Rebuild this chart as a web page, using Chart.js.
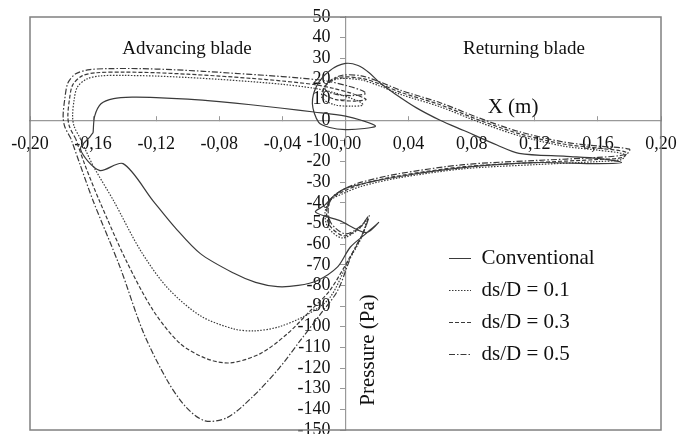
<!DOCTYPE html>
<html>
<head>
<meta charset="utf-8">
<script src="https://cdn.jsdelivr.net/npm/chart.js@4/dist/chart.umd.min.js"></script>
<style>
  html, body { margin: 0; padding: 0; background: #fff; }
</style>
</head>
<body>
<canvas id="pressureChart" width="678" height="434"></canvas>
<script>
// Pressure along the blade (X in m, pressure in Pa), one closed loop per rotor
const seriesNames = ['Conventional', 'ds/D = 0.1', 'ds/D = 0.3', 'ds/D = 0.5'];

const convX = [-0.160, -0.159, -0.155, -0.147, -0.135, -0.120, -0.100, -0.080, -0.060, -0.040, -0.020, 0.000,
  0.010, 0.019, 0.012, 0.000, -0.010, -0.017, -0.021, -0.018, -0.010, 0.000, 0.008, 0.015, 0.022, 0.031,
  0.045, 0.060, 0.075, 0.096, 0.110, 0.140, 0.160, 0.175, 0.160, 0.120, 0.080, 0.040, 0.015, 0.000, -0.008,
  -0.013, -0.019, -0.004, 0.013, 0.021, 0.012, 0.003, -0.005, -0.018, -0.030, -0.043, -0.057, -0.071, -0.092,
  -0.108, -0.122, -0.141, -0.156, -0.168, -0.162, -0.160];
const convY = [-6, 2, 8, 10.5, 11.2, 11, 10.2, 9, 7.5, 5.8, 4, 2,
  0, -2.8, -4, -4.5, -3.5, -1, 8, 17, 24, 27.5, 26.5, 23, 18, 13,
  6, 0, -5, -12, -16, -17.5, -18.5, -20.5, -21, -20.5, -22.5, -26.5, -30, -33, -37,
  -41, -44.5, -48.5, -54.4, -49.5, -55.5, -61.5, -71, -77.7, -80, -80.6, -78.5, -74, -64.6,
  -52, -39, -21, -24.3, -14, -8, -6];

const ds01X = [-0.168, -0.172, -0.173, -0.172, -0.170, -0.164, -0.155, -0.140, -0.120, -0.100, -0.080, -0.060,
  -0.040, -0.020, -0.008, 0.004, 0.010, 0.011, 0.004, -0.007, -0.015, -0.013, -0.005, 0.010, 0.022, 0.035,
  0.060, 0.085, 0.110, 0.138, 0.160, 0.177, 0.175, 0.160, 0.120, 0.075, 0.033, 0.010, 0.000, -0.010, -0.013,
  -0.011, -0.002, 0.008, 0.013, 0.010, 0.002, -0.010, -0.024, -0.042, -0.058, -0.071, -0.092, -0.113, -0.130,
  -0.147, -0.160, -0.168];
const ds01Y = [-9, -3, 2, 10, 16, 20, 21.5, 21.7, 21.4, 20.7, 19.8, 18.7,
  17.4, 15.5, 13.5, 10.5, 8.5, 7.3, 6.8, 7.5, 11, 16.5, 20, 19.5, 16.5, 12.5,
  6.5, -1, -7.5, -12.5, -14.5, -16.5, -19, -20, -21.5, -23.5, -28, -32, -35, -39, -45,
  -52, -57, -53, -49, -57, -68, -86, -94, -100, -102, -101, -94.7, -81, -63,
  -39, -22, -9];

const ds03X = [-0.171, -0.175, -0.176, -0.175, -0.173, -0.167, -0.158, -0.140, -0.120, -0.100, -0.080, -0.060,
  -0.040, -0.020, -0.008, 0.004, 0.011, 0.013, 0.006, -0.006, -0.014, -0.012, -0.004, 0.010, 0.022, 0.035,
  0.060, 0.085, 0.110, 0.138, 0.160, 0.178, 0.176, 0.160, 0.120, 0.075, 0.033, 0.010, 0.000, -0.009, -0.012,
  -0.010, -0.001, 0.009, 0.014, 0.011, 0.003, -0.010, -0.022, -0.037, -0.054, -0.073, -0.088, -0.105, -0.122,
  -0.139, -0.156, -0.165, -0.171];
const ds03Y = [-9, -3, 2, 10, 17, 21.5, 23, 23.3, 23, 22.3, 21.4, 20.3,
  19, 17.3, 15.5, 13, 11, 10, 9.3, 10, 13, 17.5, 20.8, 20.3, 17.5, 13.5,
  7.5, 0, -6.5, -11.5, -13.5, -15.5, -18, -19, -20.5, -22.5, -27, -31, -34, -38, -44,
  -51, -56, -52, -47.5, -55, -66, -82.5, -92, -103.5, -113, -117.5, -115.5, -108, -92,
  -68, -39, -22, -9];

const ds05X = [-0.174, -0.178, -0.179, -0.178, -0.176, -0.171, -0.162, -0.150, -0.130, -0.110, -0.090, -0.070,
  -0.050, -0.030, -0.012, 0.002, 0.010, 0.013, 0.006, -0.006, -0.013, -0.010, -0.002, 0.010, 0.022, 0.035,
  0.060, 0.085, 0.110, 0.138, 0.160, 0.180, 0.178, 0.160, 0.120, 0.075, 0.033, 0.010, 0.000, -0.008, -0.011,
  -0.009, 0.000, 0.010, 0.015, 0.012, 0.004, -0.005, -0.016, -0.029, -0.042, -0.059, -0.075, -0.089, -0.101,
  -0.113, -0.128, -0.143, -0.160, -0.168, -0.174];
const ds05Y = [-9, -3, 2, 10, 18, 22.5, 24.5, 25, 25, 24.5, 23.7, 22.7,
  21.7, 20.5, 19, 16.5, 14.5, 13, 12, 12.5, 15, 19, 21.8, 21.5, 18.5, 14.5,
  8.5, 1, -5.5, -10.5, -12.5, -14, -16.5, -18, -19.5, -21.5, -26, -30, -33, -37, -43,
  -50, -55, -51, -46, -53, -65, -82.5, -94, -107, -120, -134, -144, -145.6, -139,
  -126, -103, -71, -39, -22, -9];

const xMin = -0.2, xMax = 0.2, xStep = 0.04;
const yMin = -150, yMax = 50, yStep = 10;

const serif = 'Liberation Serif';
const toPoints = (xs, ys) => xs.map((x, i) => ({ x: x, y: ys[i] }));

function makeSet(label, xs, ys, dash) {
    return {
        label: label,
        data: toPoints(xs, ys),
        showLine: true,
        borderColor: '#3a3a3a',
        backgroundColor: '#3a3a3a',
        borderWidth: 1.2,
        borderDash: dash,
        pointRadius: 0,
        pointHoverRadius: 0,
        tension: 0.3,
        fill: false
    };
}

// thin grey frame round the plot area
const plotFrame = {
    id: 'plotFrame',
    afterDraw(chart) {
        const { ctx, chartArea: a } = chart;
        ctx.save();
        ctx.strokeStyle = '#808080';
        ctx.lineWidth = 1.5;
        ctx.strokeRect(a.left, a.top, a.right - a.left, a.bottom - a.top);
        ctx.restore();
    }
};

// region captions and axis titles sitting inside the plot
const captions = {
    id: 'captions',
    afterDraw(chart) {
        const ctx = chart.ctx;
        ctx.save();
        ctx.fillStyle = '#111';
        ctx.textAlign = 'center';
        ctx.textBaseline = 'middle';
        ctx.font = '19px "' + serif + '"';
        ctx.fillText('Advancing blade', 187, 49);
        ctx.fillText('Returning blade', 524, 49);
        ctx.font = '21px "' + serif + '"';
        ctx.fillText('X (m)', 513, 107);
        ctx.translate(368, 350);
        ctx.rotate(-Math.PI / 2);
        ctx.fillText('Pressure (Pa)', 0, 0);
        ctx.restore();
    }
};

// put the legend inside the plot, lower right
const legendSpot = {
    id: 'legendSpot',
    afterUpdate(chart) {
        const lg = chart.legend;
        if (!lg) return;
        const w = lg.width, h = lg.height;
        lg.left = 438;
        lg.top = 237;
        lg.right = lg.left + w;
        lg.bottom = lg.top + h;
        lg.adjustHitBoxes();
    }
};

const noPad = s => { s.paddingLeft = 0; s.paddingRight = 0; s.paddingTop = 0; s.paddingBottom = 0; };

new Chart(document.getElementById('pressureChart'), {
    type: 'scatter',
    data: {
        datasets: [
            makeSet(seriesNames[0], convX, convY, []),
            makeSet(seriesNames[1], ds01X, ds01Y, [1.5, 1.5]),
            makeSet(seriesNames[2], ds03X, ds03Y, [4, 2]),
            makeSet(seriesNames[3], ds05X, ds05Y, [6, 2, 1.5, 2])
        ]
    },
    options: {
        responsive: false,
        animation: false,
        layout: { padding: { left: 30, right: 17, top: 17, bottom: 4 } },
        scales: {
            x: {
                type: 'linear',
                min: xMin,
                max: xMax,
                position: { y: 0 },
                afterFit: noPad,
                ticks: {
                    stepSize: xStep,
                    autoSkip: false,
                    maxRotation: 0,
                    padding: 18,
                    color: '#111',
                    font: { family: serif, size: 18 },
                    callback: v => v.toFixed(2).replace('.', ',')
                },
                grid: { drawOnChartArea: false, tickLength: -5, color: '#999' },
                border: { color: '#999', width: 1.2 }
            },
            y: {
                type: 'linear',
                min: yMin,
                max: yMax,
                position: { x: 0 },
                afterFit: noPad,
                ticks: {
                    stepSize: yStep,
                    autoSkip: false,
                    color: '#111',
                    font: { family: serif, size: 18 },
                    callback: v => v + '\u2002\u2005\u200A'
                },
                grid: { drawOnChartArea: false, tickLength: 5, color: '#999' },
                border: { color: '#999', width: 1.2 }
            }
        },
        plugins: {
            legend: {
                position: 'chartArea',
                align: 'start',
                labels: {
                    usePointStyle: true,
                    pointStyle: 'line',
                    pointStyleWidth: 22,
                    padding: 11,
                    color: '#111',
                    font: { family: serif, size: 21, lineHeight: 1.2 },
                    // carry each series' dash pattern into its legend sample
                    generateLabels: chart => Chart.defaults.plugins.legend.labels.generateLabels(chart).map(item => {
                        const ds = chart.data.datasets[item.datasetIndex];
                        item.lineDash = ds.borderDash;
                        item.lineWidth = ds.borderWidth;
                        item.strokeStyle = ds.borderColor;
                        return item;
                    })
                }
            },
            tooltip: { enabled: false }
        }
    },
    plugins: [plotFrame, captions, legendSpot]
});
</script>
</body>
</html>
